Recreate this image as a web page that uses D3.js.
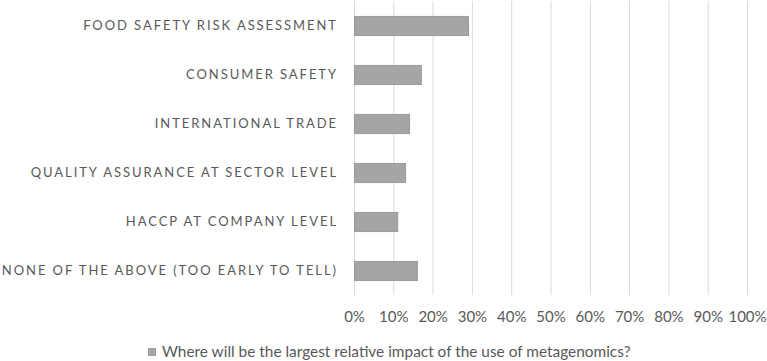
<!DOCTYPE html>
<html>
<head>
<meta charset="utf-8">
<script src="https://cdn.jsdelivr.net/npm/d3@7"></script>
<style>
  body { margin: 0; background: #fff; }
  svg { display: block; font-family: Lato, "Open Sans", sans-serif; }
</style>
</head>
<body>
<div id="chart"></div>
<script>
// categories, top to bottom
const categories = [
  "FOOD SAFETY RISK ASSESSMENT",
  "CONSUMER SAFETY",
  "INTERNATIONAL TRADE",
  "QUALITY ASSURANCE AT SECTOR LEVEL",
  "HACCP AT COMPANY LEVEL",
  "NONE OF THE ABOVE (TOO EARLY TO TELL)"
];
const values = [0.29, 0.17, 0.14, 0.13, 0.11, 0.16];
const xTicks = [0, 0.1, 0.2, 0.3, 0.4, 0.5, 0.6, 0.7, 0.8, 0.9, 1.0];
const seriesName = "Where will be the largest relative impact of the use of metagenomics?";

const width = 767, height = 361;
const margin = { top: 1, right: 20, bottom: 66, left: 354 };

const svg = d3.select("#chart").append("svg")
    .attr("width", width)
    .attr("height", height);

const x = d3.scaleLinear().domain([0, 1]).range([margin.left, 747]);
const y = d3.scaleBand().domain(categories)
    .range([margin.top, height - margin.bottom])
    .paddingInner(0.61).paddingOuter(0.305);

// vertical grid lines
svg.append("g")
    .selectAll("line")
    .data(xTicks)
    .enter().append("line")
    .attr("x1", d => x(d) + 0.5)
    .attr("x2", d => x(d) + 0.5)
    .attr("y1", margin.top)
    .attr("y2", height - margin.bottom)
    .attr("stroke", "#d9d9d9")
    .attr("stroke-width", 1);

// bars
svg.append("g")
    .selectAll("rect")
    .data(values)
    .enter().append("rect")
    .attr("x", x(0) + 0.5)
    .attr("y", (d, i) => y(categories[i]) + 0.5)
    .attr("width", d => x(d) - x(0))
    .attr("height", y.bandwidth())
    .attr("fill", "#a5a5a5")
    .attr("stroke", "#9a9a9a")
    .attr("stroke-width", 1);

// x axis labels
const xAxis = d3.axisBottom(x)
    .tickValues(xTicks)
    .tickFormat(d3.format(".0%"))
    .tickSize(0)
    .tickPadding(16);

svg.append("g")
    .attr("transform", "translate(0," + (height - margin.bottom) + ")")
    .call(xAxis)
    .call(g => g.select(".domain").remove())
    .selectAll("text")
    .style("font-size", "15px")
    .style("font-family", "Lato, sans-serif")
    .attr("fill", "#595959");

// category labels
svg.append("g")
    .selectAll("text")
    .data(categories)
    .enter().append("text")
    .attr("x", 338)
    .attr("y", d => y(d) + y.bandwidth() / 2)
    .attr("dy", "0.35em")
    .attr("text-anchor", "end")
    .style("font-size", "13px")
    .style("letter-spacing", "1.94px")
    .attr("fill", "#595959")
    .text(d => d);

// legend
const legend = svg.append("g").attr("transform", "translate(148,352)");
legend.append("rect")
    .attr("x", 0).attr("y", -4)
    .attr("width", 8).attr("height", 8)
    .attr("fill", "#a5a5a5");
legend.append("text")
    .attr("x", 14)
    .attr("dy", "0.35em")
    .style("font-size", "15.4px")
    .attr("fill", "#595959")
    .text(seriesName);
</script>
</body>
</html>
